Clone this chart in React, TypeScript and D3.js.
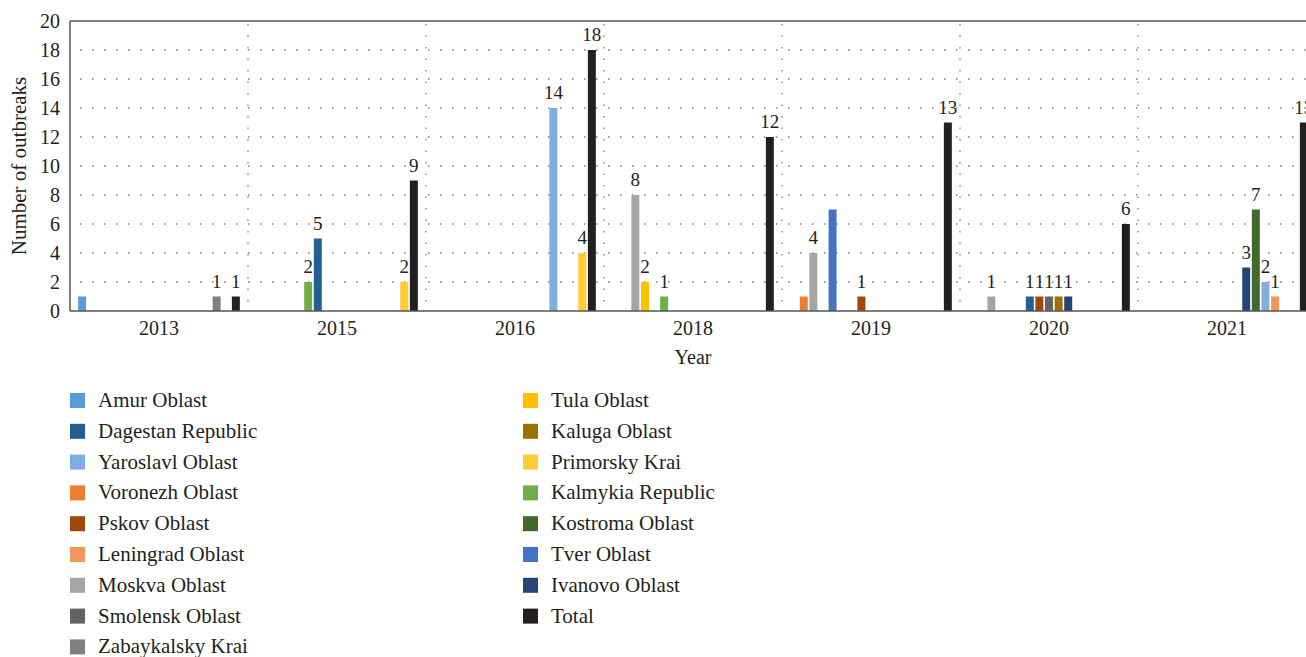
import React from "react";
import * as d3 from "d3";

// years on the x axis
const years = ["2013", "2015", "2016", "2018", "2019", "2020", "2021"];

// series in bar order (order of the bars inside each year group)
const regions = [
  "Amur Oblast",
  "Voronezh Oblast",
  "Moskva Oblast",
  "Tula Oblast",
  "Tver Oblast",
  "Kalmykia Republic",
  "Dagestan Republic",
  "Pskov Oblast",
  "Smolensk Oblast",
  "Kaluga Oblast",
  "Ivanovo Oblast",
  "Kostroma Oblast",
  "Yaroslavl Oblast",
  "Leningrad Oblast",
  "Zabaykalsky Krai",
  "Primorsky Krai",
  "Total",
];

const colors = [
  "#5b9bd5", "#ed7d31", "#a5a5a5", "#ffc000", "#4472c4", "#70ad47",
  "#255e91", "#9e480e", "#636363", "#997300", "#264478", "#43682b",
  "#7cafdd", "#f1975a", "#7f7f7f", "#ffcd33", "#231f20",
];

// outbreaks per year, one array per region
const amur = [1, 0, 0, 0, 0, 0, 0];
const voronezh = [0, 0, 0, 0, 1, 0, 0];
const moskva = [0, 0, 0, 8, 4, 1, 0];
const tula = [0, 0, 0, 2, 0, 0, 0];
const tver = [0, 0, 0, 0, 7, 0, 0];
const kalmykia = [0, 2, 0, 1, 0, 0, 0];
const dagestan = [0, 5, 0, 0, 0, 1, 0];
const pskov = [0, 0, 0, 0, 1, 1, 0];
const smolensk = [0, 0, 0, 0, 0, 1, 0];
const kaluga = [0, 0, 0, 0, 0, 1, 0];
const ivanovo = [0, 0, 0, 0, 0, 1, 3];
const kostroma = [0, 0, 0, 0, 0, 0, 7];
const yaroslavl = [0, 0, 14, 0, 0, 0, 2];
const leningrad = [0, 0, 0, 0, 0, 0, 1];
const zabaykalsky = [1, 0, 0, 0, 0, 0, 0];
const primorsky = [0, 2, 4, 0, 0, 0, 0];
const total = [1, 9, 18, 12, 13, 6, 13];

const values = [
  amur, voronezh, moskva, tula, tver, kalmykia, dagestan, pskov, smolensk,
  kaluga, ivanovo, kostroma, yaroslavl, leningrad, zabaykalsky, primorsky, total,
];

// bars whose value label is not shown in the original
const hiddenLabels = ["2013|Amur Oblast", "2019|Voronezh Oblast", "2019|Tver Oblast"];

const yTicks = [0, 2, 4, 6, 8, 10, 12, 14, 16, 18, 20];

// legend layout as in the picture (two columns)
const legendLeft = [
  "Amur Oblast", "Dagestan Republic", "Yaroslavl Oblast", "Voronezh Oblast",
  "Pskov Oblast", "Leningrad Oblast", "Moskva Oblast", "Smolensk Oblast", "Zabaykalsky Krai",
];
const legendRight = [
  "Tula Oblast", "Kaluga Oblast", "Primorsky Krai", "Kalmykia Republic",
  "Kostroma Oblast", "Tver Oblast", "Ivanovo Oblast", "Total",
];

const W = 1306;
const H = 657;
const margin = { left: 70, top: 21, bottom: 311, right: 1316 };
const font = "'Liberation Serif', 'Times New Roman', serif";
const ink = "#231f20";

export default function App() {
  const x0 = d3.scaleBand<string>().domain(years).range([margin.left, margin.right]);
  const x1 = d3
    .scaleBand<string>()
    .domain(regions)
    .range([0, x0.bandwidth()])
    .paddingInner(0.17)
    .paddingOuter(0.85);
  const y = d3.scaleLinear().domain([0, 20]).range([margin.bottom, margin.top]);
  const color = d3.scaleOrdinal<string, string>().domain(regions).range(colors);

  const bars: { year: string; region: string; v: number }[] = [];
  years.forEach((yr, i) => {
    regions.forEach((r, j) => {
      const v = values[j][i];
      if (v > 0) bars.push({ year: yr, region: r, v });
    });
  });

  const legendY = (i: number) => 393 + i * 30.8;

  return (
    <svg
      width={W}
      height={H}
      style={{ position: "absolute", left: 0, top: 0, background: "#fff" }}
      fontFamily={font}
    >
      {/* grid */}
      {yTicks.slice(1, -1).map((t) => (
        <line
          key={"h" + t}
          x1={margin.left + 10}
          x2={W}
          y1={y(t)}
          y2={y(t)}
          stroke="#808080"
          strokeWidth={1.3}
          strokeDasharray="1.5 10.5"
        />
      ))}
      {years.slice(1).map((yr) => (
        <line
          key={"v" + yr}
          x1={x0(yr)!}
          x2={x0(yr)!}
          y1={margin.top + 3}
          y2={margin.bottom}
          stroke="#808080"
          strokeWidth={1.3}
          strokeDasharray="1.5 10"
        />
      ))}

      {/* bars */}
      {bars.map((b) => (
        <rect
          key={b.year + b.region}
          x={x0(b.year)! + x1(b.region)!}
          y={y(b.v)}
          width={x1.bandwidth()}
          height={y(0) - y(b.v)}
          fill={color(b.region)}
        />
      ))}

      {/* value labels */}
      {bars
        .filter((b) => !hiddenLabels.includes(b.year + "|" + b.region))
        .map((b) => (
          <text
            key={"l" + b.year + b.region}
            x={x0(b.year)! + x1(b.region)! + x1.bandwidth() / 2}
            y={y(b.v) - 9}
            textAnchor="middle"
            fontSize={19}
            fill={ink}
          >
            {b.v}
          </text>
        ))}

      {/* frame */}
      <line x1={margin.left} x2={W} y1={margin.top} y2={margin.top} stroke="#555" strokeWidth={1.5} />
      <line x1={margin.left} x2={W} y1={margin.bottom} y2={margin.bottom} stroke="#555" strokeWidth={1.5} />
      <line x1={margin.left} x2={margin.left} y1={margin.top} y2={margin.bottom} stroke="#555" strokeWidth={1.5} />

      {/* y ticks */}
      {yTicks.map((t) => (
        <text
          key={"yt" + t}
          x={60}
          y={y(t)}
          dy="0.35em"
          textAnchor="end"
          fontSize={20}
          fill={ink}
        >
          {t}
        </text>
      ))}
      <text
        transform={`translate(26,${(margin.top + margin.bottom) / 2}) rotate(-90)`}
        textAnchor="middle"
        fontSize={21}
        fill={ink}
      >
        Number of outbreaks
      </text>

      {/* x ticks */}
      {years.map((yr) => (
        <text
          key={"xt" + yr}
          x={x0(yr)! + x0.bandwidth() / 2}
          y={335}
          textAnchor="middle"
          fontSize={20}
          fill={ink}
        >
          {yr}
        </text>
      ))}
      <text x={(margin.left + margin.right) / 2} y={364} textAnchor="middle" fontSize={20} fill={ink}>
        Year
      </text>

      {/* legend */}
      {[legendLeft, legendRight].map((col, ci) =>
        col.map((name, i) => (
          <g key={"lg" + name} transform={`translate(${ci === 0 ? 70 : 523},${legendY(i)})`}>
            <rect width={15} height={15} fill={color(name)} />
            <text x={28} y={14} fontSize={21} fill={ink}>
              {name}
            </text>
          </g>
        ))
      )}
    </svg>
  );
}
